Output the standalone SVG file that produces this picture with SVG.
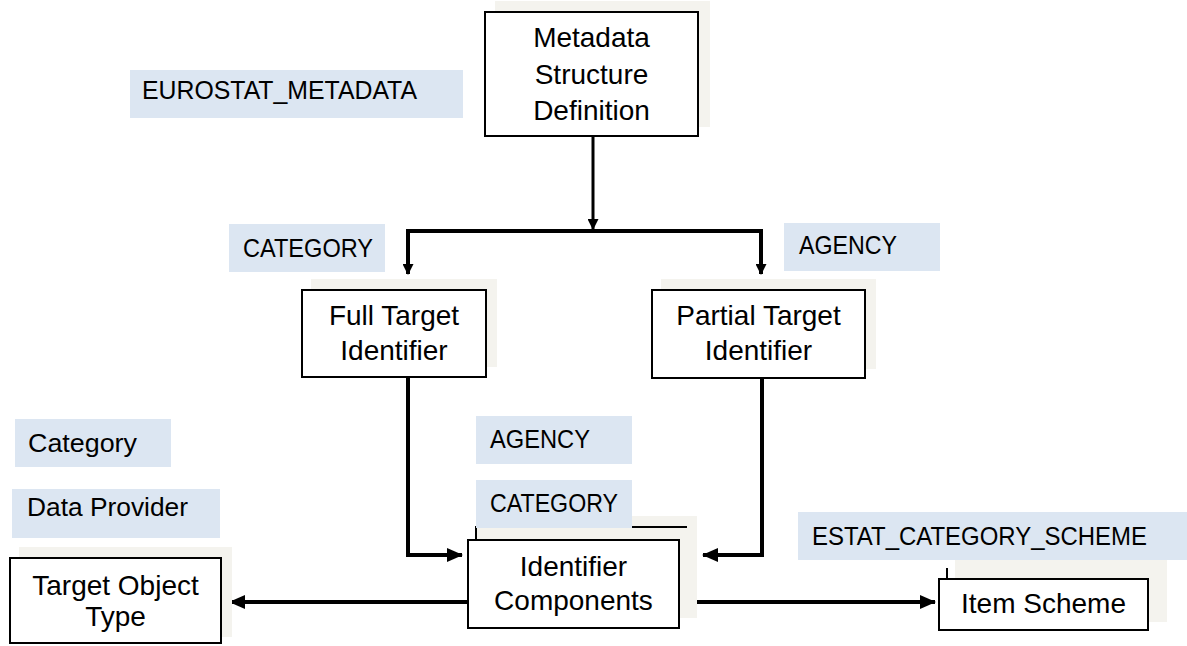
<svg xmlns="http://www.w3.org/2000/svg" width="1187" height="646" viewBox="0 0 1187 646">
  <style>
    .shadow { fill: #f4f3ee; }
    .box { fill: #ffffff; stroke: #000000; stroke-width: 2; }
    .tag { fill: #dce6f2; }
    .btxt { font-family: "Liberation Sans", Arial, sans-serif; font-size: 28px; fill: #000000; text-anchor: middle; }
    .ltxt { font-family: "Liberation Sans", Arial, sans-serif; font-size: 26px; fill: #000000; }
    .wire { fill: none; stroke: #000000; stroke-width: 4; }
    .thin { fill: none; stroke: #000000; stroke-width: 3; }
    .edge { fill: none; stroke: #000000; stroke-width: 2; }
  </style>
  <defs>
    <marker id="big" markerUnits="userSpaceOnUse" markerWidth="16" markerHeight="14" refX="15" refY="7" orient="auto">
      <path d="M0,0 L16,7 L0,14 z" fill="#000000"/>
    </marker>
    <marker id="small" markerUnits="userSpaceOnUse" markerWidth="11" markerHeight="11" refX="10" refY="5.5" orient="auto">
      <path d="M0,0 L11,5.5 L0,11 z" fill="#000000"/>
    </marker>
  </defs>

  <rect width="1187" height="646" fill="#ffffff"/>

  <!-- free-standing labels -->
  <g id="labels">
    <rect class="tag" x="130" y="70" width="333" height="48"/>
    <text class="ltxt" x="142" y="99" textLength="275" lengthAdjust="spacingAndGlyphs">EUROSTAT_METADATA</text>
    <rect class="tag" x="229" y="224" width="156" height="48"/>
    <text class="ltxt" x="243" y="257" textLength="130" lengthAdjust="spacingAndGlyphs">CATEGORY</text>
    <rect class="tag" x="784" y="223" width="156" height="48"/>
    <text class="ltxt" x="799" y="254" textLength="98" lengthAdjust="spacingAndGlyphs">AGENCY</text>
    <rect class="tag" x="15" y="419" width="156" height="48"/>
    <text class="ltxt" x="28" y="452" textLength="109" lengthAdjust="spacingAndGlyphs">Category</text>
    <rect class="tag" x="12" y="489" width="208" height="49"/>
    <text class="ltxt" x="27" y="516" textLength="161" lengthAdjust="spacingAndGlyphs">Data Provider</text>
    <rect class="tag" x="476" y="416" width="156" height="48"/>
    <text class="ltxt" x="490" y="448" textLength="100" lengthAdjust="spacingAndGlyphs">AGENCY</text>
    <rect class="tag" x="798" y="512" width="389" height="48"/>
    <text class="ltxt" x="812" y="545" textLength="335" lengthAdjust="spacingAndGlyphs">ESTAT_CATEGORY_SCHEME</text>
  </g>

  <!-- connectors -->
  <g id="connectors">
    <line class="thin" x1="593" y1="136" x2="593" y2="229" marker-end="url(#small)"/>
    <line class="wire" x1="406" y1="231" x2="763" y2="231"/>
    <line class="wire" x1="408" y1="231" x2="408" y2="274" marker-end="url(#small)"/>
    <line class="wire" x1="761" y1="231" x2="761" y2="274" marker-end="url(#small)"/>
    <polyline class="wire" points="408,377 408,555 462,555" marker-end="url(#big)"/>
    <polyline class="wire" points="762,378 762,555 703,555" marker-end="url(#big)"/>
    <line class="wire" x1="468" y1="602" x2="230" y2="602" marker-end="url(#big)"/>
    <line class="wire" x1="679" y1="602" x2="935" y2="602" marker-end="url(#big)"/>
  </g>

  <g id="msd">
    <rect class="shadow" x="495" y="1" width="215" height="126"/>
    <rect class="box" x="485" y="12" width="213" height="124"/>
    <text class="btxt" x="591.5" y="47">Metadata</text>
    <text class="btxt" x="591.5" y="83.5">Structure</text>
    <text class="btxt" x="591.5" y="120">Definition</text>
  </g>

  <g id="full-target">
    <rect class="shadow" x="311" y="279" width="186" height="88"/>
    <rect class="box" x="302" y="290" width="184" height="87"/>
    <text class="btxt" x="394" y="325">Full Target</text>
    <text class="btxt" x="394" y="360">Identifier</text>
  </g>

  <g id="partial-target">
    <rect class="shadow" x="661" y="279" width="215" height="90"/>
    <rect class="box" x="652" y="290" width="213" height="88"/>
    <text class="btxt" x="758.5" y="325">Partial Target</text>
    <text class="btxt" x="758.5" y="360">Identifier</text>
  </g>

  <g id="identifier-components">
    <rect class="shadow" x="476" y="516" width="221" height="102"/>
    <polyline class="edge" points="476,540 476,527 687,527"/>
    <rect class="tag" x="476" y="480" width="156" height="48"/>
    <text class="ltxt" x="490" y="512" textLength="128" lengthAdjust="spacingAndGlyphs">CATEGORY</text>
    <rect class="box" x="468" y="540" width="211" height="88"/>
    <text class="btxt" x="573.5" y="576">Identifier</text>
    <text class="btxt" x="573.5" y="610">Components</text>
  </g>

  <g id="target-object-type">
    <rect class="shadow" x="19" y="547" width="213" height="90"/>
    <rect class="box" x="10" y="558" width="211" height="85"/>
    <text class="btxt" x="115.5" y="595">Target Object</text>
    <text class="btxt" x="115.5" y="626">Type</text>
  </g>

  <g id="item-scheme">
    <rect class="shadow" x="955" y="560" width="212" height="62"/>
    <line class="edge" x1="947" y1="568" x2="947" y2="579"/>
    <rect class="box" x="939" y="579" width="209" height="51"/>
    <text class="btxt" x="1043.5" y="613">Item Scheme</text>
  </g>
</svg>
